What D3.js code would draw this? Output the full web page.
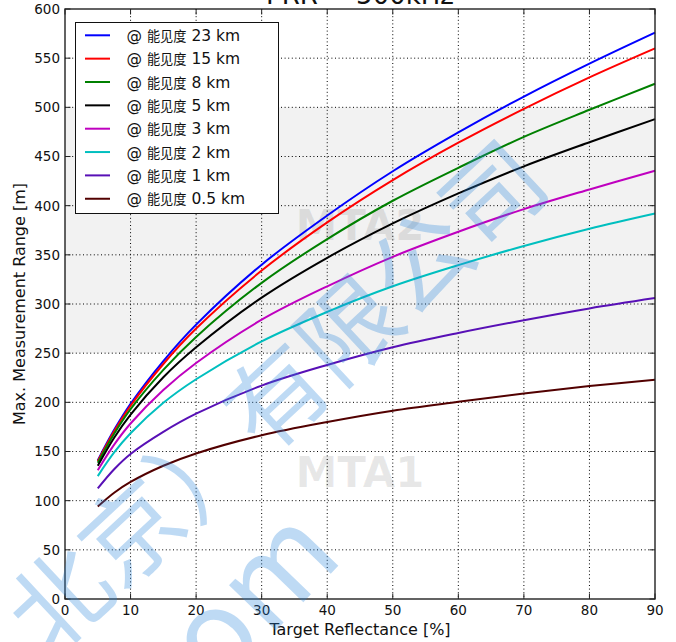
<!DOCTYPE html>
<html lang="en">
<head>
<meta charset="UTF-8">
<title>Max. Measurement Range vs Target Reflectance</title>
<script src="https://d3js.org/d3.v7.min.js"></script>
<style>
  body { margin: 0; background: #fff; }
  svg { display: block; font-family: "DejaVu Sans", "Noto Sans CJK SC", sans-serif; }
  .grid line { stroke: #000; stroke-width: 1; stroke-dasharray: 1,2.6; }
  .tick-label { font-size: 13.5px; fill: #111; }
  .axis-title { font-size: 16px; fill: #111; }
</style>
</head>
<body>
<script>
  // reflectance [%] where each curve was read
  const reflectance = [5, 7.5, 10, 15, 20, 30, 40, 50, 60, 70, 80, 90];

  // max range [m] per visibility
  const range23 = [141, 172, 198.5, 242, 279, 340, 390, 435, 474.5, 511, 544.5, 576];
  const range15 = [140, 170.5, 196.5, 239, 275, 334, 383, 426, 464, 498.5, 530.5, 560];
  const range8 = [138.5, 168, 193, 233, 266.5, 321.5, 366, 405, 438.5, 470, 497.5, 524];
  const range5 = [135.5, 164, 187.5, 225.5, 256, 306.5, 347, 382, 412.5, 440, 464.5, 488];
  const range3 = [131, 157, 178.5, 212.5, 240, 284, 318, 348, 373.5, 396.5, 416.5, 435.5];
  const range2 = [125, 149, 168.5, 199.5, 223.5, 262, 292, 318, 339.5, 359, 376.5, 392];
  const range1 = [112.5, 132, 147.5, 170, 188.5, 217, 238, 256, 270.5, 283.5, 295.5, 306];
  const range05 = [94, 108, 119, 135.5, 148, 166.5, 180, 191.5, 200.5, 209, 216.5, 223];

  const visibility = ["23 km", "15 km", "8 km", "5 km", "3 km", "2 km", "1 km", "0.5 km"];
  const seriesValues = [range23, range15, range8, range5, range3, range2, range1, range05];
  const colors = ["#0000ff", "#ff0000", "#008000", "#000000", "#bf00bf", "#00bfbf", "#5810b6", "#520000"];

  const xTickValues = [0, 10, 20, 30, 40, 50, 60, 70, 80, 90];
  const yTickValues = [0, 50, 100, 150, 200, 250, 300, 350, 400, 450, 500, 550, 600];
  const bandRange = [250, 500];

  const width = 676, height = 642;
  const mLeft = 65, mRight = 655, mTop = 9, mBottom = 599;

  const x = d3.scaleLinear().domain([0, 90]).range([mLeft, mRight]);
  const y = d3.scaleLinear().domain([0, 600]).range([mBottom, mTop]);

  const svg = d3.select("body").append("svg")
    .attr("width", width)
    .attr("height", height);

  // shaded band
  svg.append("rect")
    .attr("x", mLeft)
    .attr("y", y(bandRange[1]))
    .attr("width", mRight - mLeft)
    .attr("height", y(bandRange[0]) - y(bandRange[1]))
    .attr("fill", "#f2f2f2");

  // MTA marks
  svg.selectAll(".mta")
    .data([["MTA2", 380], ["MTA1", 129]])
    .enter()
    .append("text")
    .attr("class", "mta")
    .attr("x", x(45))
    .attr("y", d => y(d[1]))
    .attr("text-anchor", "middle")
    .attr("dominant-baseline", "central")
    .attr("font-size", 42)
    .attr("font-weight", "bold")
    .attr("fill", "#000")
    .attr("fill-opacity", 0.09)
    .text(d => d[0]);

  // grid
  const grid = svg.append("g").attr("class", "grid");
  grid.selectAll(".vx")
    .data(xTickValues.slice(1, -1))
    .enter()
    .append("line")
    .attr("x1", d => x(d)).attr("x2", d => x(d))
    .attr("y1", mTop).attr("y2", mBottom);
  grid.selectAll(".hy")
    .data(yTickValues.slice(1, -1))
    .enter()
    .append("line")
    .attr("x1", mLeft).attr("x2", mRight)
    .attr("y1", d => y(d)).attr("y2", d => y(d));

  // curves
  const line = d3.line()
    .x(d => x(d[0]))
    .y(d => y(d[1]))
    .curve(d3.curveCatmullRom.alpha(0.5));

  seriesValues.forEach((vals, i) => {
    svg.append("path")
      .datum(reflectance.map((r, j) => [r, vals[j]]))
      .attr("fill", "none")
      .attr("stroke", colors[i])
      .attr("stroke-width", 2)
      .attr("d", line);
  });

  // inward ticks on all four sides
  const tickLen = 5.5;
  const ticks = svg.append("g").attr("stroke", "#222").attr("stroke-width", 1);
  xTickValues.forEach(v => {
    ticks.append("line").attr("x1", x(v)).attr("x2", x(v)).attr("y1", mBottom).attr("y2", mBottom - tickLen);
    ticks.append("line").attr("x1", x(v)).attr("x2", x(v)).attr("y1", mTop).attr("y2", mTop + tickLen);
  });
  yTickValues.forEach(v => {
    ticks.append("line").attr("x1", mLeft).attr("x2", mLeft + tickLen).attr("y1", y(v)).attr("y2", y(v));
    ticks.append("line").attr("x1", mRight).attr("x2", mRight - tickLen).attr("y1", y(v)).attr("y2", y(v));
  });

  // frame
  svg.append("rect")
    .attr("x", mLeft).attr("y", mTop)
    .attr("width", mRight - mLeft).attr("height", mBottom - mTop)
    .attr("fill", "none")
    .attr("stroke", "#222")
    .attr("stroke-width", 1.4);

  // tick labels
  svg.selectAll(".xl")
    .data(xTickValues)
    .enter()
    .append("text")
    .attr("class", "tick-label")
    .attr("x", d => x(d))
    .attr("y", 615)
    .attr("text-anchor", "middle")
    .text(d => d);
  svg.selectAll(".yl")
    .data(yTickValues)
    .enter()
    .append("text")
    .attr("class", "tick-label")
    .attr("x", mLeft - 5)
    .attr("y", d => y(d))
    .attr("dy", "0.36em")
    .attr("text-anchor", "end")
    .text(d => d);

  // axis titles
  svg.append("text")
    .attr("class", "axis-title")
    .attr("x", (mLeft + mRight) / 2)
    .attr("y", 635)
    .attr("text-anchor", "middle")
    .text("Target Reflectance [%]");
  svg.append("text")
    .attr("class", "axis-title")
    .attr("transform", `translate(25,${(mTop + mBottom) / 2}) rotate(-90)`)
    .attr("text-anchor", "middle")
    .text("Max. Measurement Range [m]");

  // title (cut at the top edge)
  svg.append("text")
    .attr("x", (mLeft + mRight) / 2)
    .attr("y", 4)
    .attr("text-anchor", "middle")
    .attr("font-size", 26)
    .attr("fill", "#111")
    .text("PRR = 500kHz");

  // legend
  const legend = svg.append("g");
  legend.append("rect")
    .attr("x", 75.5).attr("y", 22.5)
    .attr("width", 203).attr("height", 191)
    .attr("fill", "#fff")
    .attr("stroke", "#111")
    .attr("stroke-width", 1);
  visibility.forEach((v, i) => {
    const ly = 35.3 + i * 23.35;
    legend.append("line")
      .attr("x1", 85).attr("x2", 110)
      .attr("y1", ly).attr("y2", ly)
      .attr("stroke", colors[i])
      .attr("stroke-width", 2);
    const t = legend.append("text")
      .attr("x", 126.5)
      .attr("y", ly)
      .attr("dy", "0.36em")
      .attr("font-size", 15.5)
      .attr("fill", "#111");
    t.append("tspan").text("@ ");
    t.append("tspan").attr("font-size", 13.2).attr("font-family", "Noto Sans CJK SC").text("能见度");
    t.append("tspan").text(" " + v);
  });

  // watermark
  const wm = svg.append("g").attr("fill", "#2884dc").attr("fill-opacity", 0.3);
  wm.append("text")
    .attr("transform", "translate(272,392) rotate(-43)")
    .attr("text-anchor", "middle")
    .attr("dominant-baseline", "central")
    .attr("font-family", "Noto Sans CJK SC")
    .attr("font-size", 99)
    .text("北京）有限公司");
  wm.append("text")
    .attr("transform", "translate(322,536) rotate(-46)")
    .attr("text-anchor", "end")
    .attr("dominant-baseline", "middle")
    .attr("font-family", "Noto Sans CJK SC")
    .attr("font-size", 120)
    .text(".com");
</script>
</body>
</html>
